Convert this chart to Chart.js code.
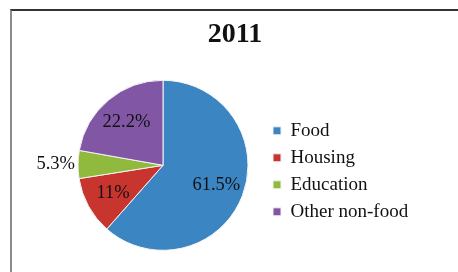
<!DOCTYPE html>
<html>
<head>
<meta charset="utf-8">
<script src="https://cdn.jsdelivr.net/npm/chart.js@4"></script>
<style>
body{margin:0;background:#fff;}
#wrap{position:relative;width:458px;height:272px;overflow:hidden;}
#frame{position:absolute;left:10px;top:9px;width:460px;height:280px;border-top:2px solid #333;border-left:2px solid #8a8a8a;}
#c{position:absolute;left:0;top:0;}
</style>
</head>
<body>
<div id="wrap">
<div id="frame"></div>
<canvas id="c" width="458" height="272"></canvas>
</div>
<script>
// data
var labels=["Food","Housing","Education","Other non-food"];
var shares=[61.5,11,5.3,22.2];
var shareText=["61.5%","11%","5.3%","22.2%"];
var colors=["#3b85c3","#c8352e","#8fba3e","#8157a5"];

var serif="'Liberation Serif','Times New Roman',serif";

// labels on the slices (small slices go outside, left of the pie)
var sliceLabels={
  id:"sliceLabels",
  afterDatasetsDraw:function(chart){
    var ctx=chart.ctx;
    var meta=chart.getDatasetMeta(0);
    ctx.save();
    ctx.font="18.5px "+serif;
    ctx.fillStyle="#111";
    ctx.textBaseline="middle";
    meta.data.forEach(function(arc,i){
      var p=arc.getProps(["x","y","startAngle","endAngle","outerRadius"],true);
      var mid=(p.startAngle+p.endAngle)/2;
      var d,align;
      if(shares[i]<8){
        d=p.outerRadius+3;
        align="right";
      }else{
        d=p.outerRadius*0.67;
        align="center";
      }
      ctx.textAlign=align;
      ctx.fillText(shareText[i],p.x+Math.cos(mid)*d,p.y+Math.sin(mid)*d);
    });
    ctx.restore();
  }
};

new Chart("c",{
  type:"pie",
  data:{
    labels:labels,
    datasets:[{
      data:shares,
      backgroundColor:colors,
      borderColor:"#f4f4f4",
      borderWidth:1,
      radius:85
    }]
  },
  options:{
    responsive:false,
    animation:false,
    layout:{padding:{left:61,right:49,top:0,bottom:21}},
    plugins:{
      title:{
        display:true,
        text:"2011",
        color:"#111",
        font:{family:serif,size:28,weight:"bold"},
        padding:{top:18,bottom:28}
      },
      legend:{
        position:"right",
        fullSize:false,
        maxWidth:144,
        title:{display:true,text:"",font:{size:2},padding:{top:5,bottom:4.6}},
        labels:{
          boxWidth:8,
          boxHeight:8,
          padding:8,
          color:"#111",
          font:{family:serif,size:19}
        }
      },
      tooltip:{enabled:false}
    }
  },
  plugins:[sliceLabels]
});
</script>
</body>
</html>
